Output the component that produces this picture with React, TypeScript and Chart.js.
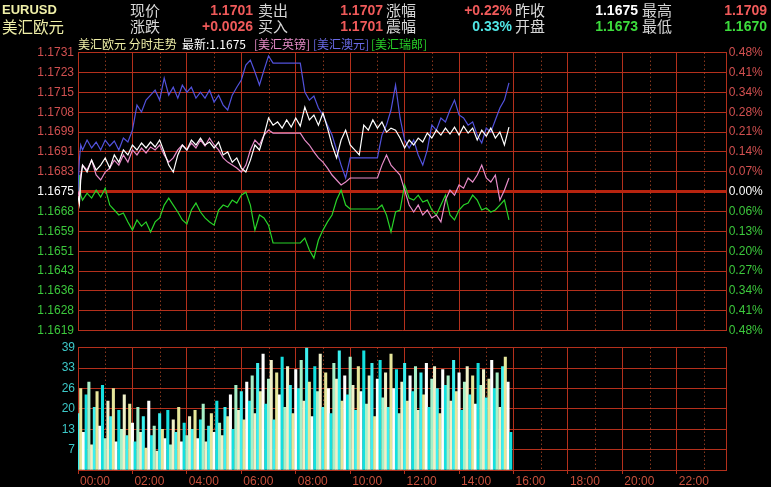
import { useEffect, useRef } from 'react';
import { Chart, registerables } from 'chart.js';

Chart.register(...registerables);

// ---------- data ----------
// minute-of-day slots for the four intraday lines
const lineTimes = [0, 3, 6, ...Array.from({ length: 95 }, (_, i) => (i + 1) * 10)];

// 美汇欧元 (EURUSD)
const eurusd = [
  1.16732, 1.16700, 1.16797,
  1.16857, 1.16829, 1.16877, 1.16837, 1.16857, 1.16886, 1.16845, 1.16898, 1.16869, 1.16918,
  1.16898, 1.16938, 1.16918, 1.16946, 1.16926, 1.16950, 1.16930, 1.16958, 1.16910, 1.16857,
  1.16829, 1.16898, 1.16938, 1.16918, 1.16958, 1.16938, 1.16966, 1.16938, 1.16950, 1.16926,
  1.16950, 1.16898, 1.16910, 1.16869, 1.16886, 1.16845, 1.16829, 1.16877, 1.16938, 1.16918,
  1.16978, 1.17047, 1.17018, 1.17031, 1.17006, 1.17039, 1.17010, 1.17047, 1.17014, 1.17091,
  1.17039, 1.17059, 1.17018, 1.17067, 1.17006, 1.16938, 1.16886, 1.16958, 1.16998, 1.16938,
  1.16918, 1.16898, 1.17018, 1.16998, 1.17039, 1.17006, 1.17031, 1.16990, 1.17006, 1.16998,
  1.16966, 1.16926, 1.16958, 1.16938, 1.16966, 1.16950, 1.16986, 1.16966, 1.16998, 1.16978,
  1.17006, 1.16982, 1.17010, 1.16978, 1.17014, 1.16986, 1.17006, 1.16958, 1.16998, 1.16974,
  1.17006, 1.16966, 1.16990, 1.16938, 1.17010,
];

// [美汇澳元] overlay
const audOverlay = [
  1.16752, 1.16877, 1.16938,
  1.16918, 1.16958, 1.16926, 1.16950, 1.16918, 1.16958, 1.16934, 1.16954, 1.16918, 1.16966,
  1.16950, 1.16998, 1.17099, 1.17071, 1.17119, 1.17139, 1.17159, 1.17119, 1.17208, 1.17139,
  1.17171, 1.17127, 1.17179, 1.17151, 1.17171, 1.17127, 1.17151, 1.17127, 1.17159, 1.17111,
  1.17139, 1.17099, 1.17079, 1.17139, 1.17171, 1.17200, 1.17260, 1.17280, 1.17232, 1.17180,
  1.17240, 1.17297, 1.17268, 1.17268, 1.17268, 1.17268, 1.17268, 1.17268, 1.17268, 1.17151,
  1.17119, 1.17135, 1.17087, 1.17059, 1.17018, 1.16978, 1.16918, 1.16857, 1.16805, 1.16886,
  1.16886, 1.16886, 1.16886, 1.16886, 1.16886, 1.16886, 1.16978, 1.17018, 1.17079, 1.17180,
  1.17047, 1.16958, 1.16926, 1.16958, 1.16898, 1.16857, 1.16918, 1.17018, 1.16998, 1.17047,
  1.17031, 1.17079, 1.17119, 1.17059, 1.17047, 1.17018, 1.17031, 1.16978, 1.16946, 1.17006,
  1.16990, 1.17039, 1.17087, 1.17119, 1.17188,
];

// [美汇英镑] overlay
const gbpOverlay = [
  1.16752, 1.16724, 1.16817,
  1.16857, 1.16837, 1.16877, 1.16817, 1.16797, 1.16829, 1.16845, 1.16877, 1.16857, 1.16898,
  1.16869, 1.16918, 1.16898, 1.16926, 1.16906, 1.16930, 1.16918, 1.16938, 1.16898, 1.16869,
  1.16886, 1.16918, 1.16938, 1.16918, 1.16946, 1.16926, 1.16958, 1.16934, 1.16966, 1.16938,
  1.16918, 1.16886, 1.16869, 1.16857, 1.16845, 1.16829, 1.16857, 1.16918, 1.16958, 1.16938,
  1.16978, 1.16998, 1.16986, 1.16986, 1.16986, 1.16986, 1.16986, 1.16986, 1.16986, 1.16958,
  1.16938, 1.16910, 1.16886, 1.16869, 1.16845, 1.16817, 1.16797, 1.16777, 1.16789, 1.16805,
  1.16805, 1.16805, 1.16805, 1.16805, 1.16805, 1.16805, 1.16857, 1.16898, 1.16857, 1.16837,
  1.16817, 1.16756, 1.16696, 1.16668, 1.16696, 1.16656, 1.16676, 1.16644, 1.16656, 1.16628,
  1.16716, 1.16756, 1.16736, 1.16777, 1.16764, 1.16805, 1.16789, 1.16817, 1.16857, 1.16805,
  1.16789, 1.16817, 1.16716, 1.16756, 1.16805,
];

// [美汇瑞郎] overlay
const chfOverlay = [
  1.16752, 1.16817, 1.16736,
  1.16716, 1.16744, 1.16724, 1.16756, 1.16728, 1.16764, 1.16696, 1.16676, 1.16656, 1.16664,
  1.16628, 1.16595, 1.16636, 1.16611, 1.16628, 1.16587, 1.16628, 1.16644, 1.16696, 1.16724,
  1.16696, 1.16668, 1.16636, 1.16620, 1.16676, 1.16704, 1.16668, 1.16644, 1.16628, 1.16615,
  1.16676, 1.16696, 1.16688, 1.16716, 1.16704, 1.16736, 1.16748, 1.16696, 1.16595, 1.16656,
  1.16644, 1.16615, 1.16543, 1.16543, 1.16543, 1.16543, 1.16543, 1.16543, 1.16543, 1.16563,
  1.16515, 1.16482, 1.16555, 1.16595, 1.16628, 1.16656, 1.16716, 1.16756, 1.16696, 1.16680,
  1.16680, 1.16680, 1.16680, 1.16680, 1.16680, 1.16680, 1.16696, 1.16656, 1.16587, 1.16668,
  1.16676, 1.16777, 1.16724, 1.16716, 1.16736, 1.16708, 1.16716, 1.16676, 1.16656, 1.16696,
  1.16736, 1.16656, 1.16636, 1.16676, 1.16696, 1.16704, 1.16736, 1.16716, 1.16676, 1.16684,
  1.16668, 1.16676, 1.16696, 1.16716, 1.16636,
];

// volume, one bar per 6-minute slot
const volume = [
  18, 26, 12, 24, 28, 8, 20, 25, 14, 27, 10, 22, 17, 26, 9, 19, 13, 24, 11, 21,
  15, 9, 20, 12, 17, 7, 22, 11, 14, 6, 18, 13, 10, 19, 8, 16, 12, 20, 9, 15, 11, 17,
  13, 19, 10, 16, 21, 9, 14, 18, 12, 22, 15, 11, 20, 17, 24, 13, 27, 19, 25, 16, 28, 22,
  30, 18, 34, 25, 37, 21, 29, 35, 16, 31, 24, 36, 20, 33, 27, 18, 32, 26,
  35, 22, 39, 28, 17, 33, 25, 37, 20, 31, 26, 18, 34, 29, 38, 22, 30, 24,
  36, 27, 19, 33, 25, 38, 21, 30, 34, 17, 29, 35, 23, 31, 20, 37, 26, 32, 18, 28, 34, 22, 30, 25, 33, 19,
  31, 24, 34, 20, 29, 33, 26, 18, 32, 27, 30, 22, 35, 25, 31, 19, 28, 33, 24, 30, 21, 34, 27, 32, 23, 29, 35, 26, 31, 20, 33, 36, 28, 12,
];
const volTimes = volume.map((_, i) => i * 6);

// axis labels (top to bottom)
const priceLabels = ['1.1731', '1.1723', '1.1715', '1.1708', '1.1699', '1.1691', '1.1683', '1.1675',
  '1.1668', '1.1659', '1.1651', '1.1643', '1.1636', '1.1628', '1.1619'];
const pctLabels = ['0.48%', '0.41%', '0.34%', '0.28%', '0.21%', '0.14%', '0.07%', '0.00%',
  '0.06%', '0.13%', '0.20%', '0.27%', '0.34%', '0.41%', '0.48%'];
const volLabels = ['', '7', '13', '20', '26', '33', '39']; // bottom to top
const timeLabels = ['00:00', '02:00', '04:00', '06:00', '08:00', '10:00', '12:00', '14:00',
  '16:00', '18:00', '20:00', '22:00'];

const priceMin = 1.1619;
const priceMax = 1.1731;
const volMax = 39;
const dayEnd = 1430;

// header quote fields
const quoteRow1 = [
  { label: '现价', value: '1.1701', color: '#f05a5a' },
  { label: '卖出', value: '1.1707', color: '#f05a5a' },
  { label: '涨幅', value: '+0.22%', color: '#f05a5a' },
  { label: '昨收', value: '1.1675', color: '#ffffff' },
  { label: '最高', value: '1.1709', color: '#f05a5a' },
];
const quoteRow2 = [
  { label: '涨跌', value: '+0.0026', color: '#f05a5a' },
  { label: '买入', value: '1.1701', color: '#f05a5a' },
  { label: '震幅', value: '0.33%', color: '#50e6e6' },
  { label: '开盘', value: '1.1673', color: '#3cdc3c' },
  { label: '最低', value: '1.1670', color: '#3cdc3c' },
];

// ---------- styles ----------
const W = 771;
const H = 487;
const gridColor = '#b4301c';
const dotColor = '#c8502c';
const zeroColor = '#b8240f';
const red = '#d25050';
const green = '#3cc83c';
const numFont = "'Liberation Sans', Arial, sans-serif";
const cjkFont = "'Noto Sans CJK SC', sans-serif";
const labelX = [130, 258, 386, 515, 642];
const valueRight = [253, 383, 512, 638, 767];
const volColors = ['#3cf0f0', '#e6e69a', '#ffffff', '#14e0e0', '#a8f0c8', '#f0f0c8'];

const oddHourLines = {
  id: 'oddHourLines',
  beforeDatasetsDraw(chart: any) {
    const { ctx, chartArea, scales } = chart;
    const xs = scales.x;
    ctx.save();
    ctx.strokeStyle = dotColor;
    ctx.lineWidth = 1;
    ctx.setLineDash([1, 3]);
    for (let h = 1; h < 24; h += 2) {
      const x = Math.round(xs.getPixelForValue(h * 60)) + 0.5;
      ctx.beginPath();
      ctx.moveTo(x, chartArea.top);
      ctx.lineTo(x, chartArea.bottom);
      ctx.stroke();
    }
    ctx.restore();
  },
};

const lineDs = (vals: number[], color: string) => ({
  data: lineTimes.map((t, i) => ({ x: t, y: vals[i] })),
  borderColor: color,
  borderWidth: 1.2,
  pointRadius: 0,
  tension: 0,
  fill: false,
});

const priceTick = (i: number) => priceMin + (i * (priceMax - priceMin)) / 14;

function buildMain(canvas: HTMLCanvasElement) {
  return new Chart(canvas, {
    type: 'line',
    data: {
      datasets: [
        lineDs(eurusd, '#ffffff'),
        lineDs(audOverlay, '#5252dc'),
        lineDs(gbpOverlay, '#e68cc8'),
        lineDs(chfOverlay, '#28d228'),
      ],
    },
    plugins: [oddHourLines],
    options: {
      animation: false,
      responsive: false,
      devicePixelRatio: 1,
      events: [],
      layout: { padding: { top: 52.7, bottom: 156.4, left: 0, right: 0 } },
      plugins: { legend: { display: false }, tooltip: { enabled: false } },
      scales: {
        x: {
          type: 'linear',
          min: 0,
          max: dayEnd,
          afterBuildTicks: (s: any) => {
            s.ticks = timeLabels.map((_, i) => ({ value: i * 120 }));
          },
          ticks: { display: false },
          grid: { color: gridColor, drawTicks: false },
          border: { display: false },
          afterFit: (s: any) => {
            s.height = 0;
          },
        },
        y: {
          type: 'linear',
          position: 'left',
          min: priceMin,
          max: priceMax,
          afterBuildTicks: (s: any) => {
            s.ticks = priceLabels.map((_, i) => ({ value: priceTick(i) }));
          },
          ticks: {
            autoSkip: false,
            padding: 4,
            font: { family: numFont, size: 12 },
            color: (c: any) => (c.index > 7 ? red : c.index === 7 ? '#ffffff' : green),
            callback: (_v: any, i: number) => priceLabels[14 - i],
          },
          grid: {
            drawTicks: false,
            color: (c: any) => (c.index === 7 ? zeroColor : gridColor),
            lineWidth: (c: any) => (c.index === 7 ? 3 : 1),
          },
          border: { color: gridColor },
          afterFit: (s: any) => {
            s.width = 78;
          },
        },
        y2: {
          type: 'linear',
          position: 'right',
          min: priceMin,
          max: priceMax,
          afterBuildTicks: (s: any) => {
            s.ticks = pctLabels.map((_, i) => ({ value: priceTick(i) }));
          },
          ticks: {
            autoSkip: false,
            padding: 2,
            font: { family: numFont, size: 12 },
            color: (c: any) => (c.index > 7 ? red : c.index === 7 ? '#ffffff' : green),
            callback: (_v: any, i: number) => pctLabels[14 - i],
          },
          grid: { display: false, drawTicks: false },
          border: { color: gridColor },
          afterFit: (s: any) => {
            s.width = 44.3;
          },
        },
      },
    },
  } as any);
}

function buildVolume(canvas: HTMLCanvasElement) {
  return new Chart(canvas, {
    type: 'bar',
    data: {
      datasets: [
        {
          data: volTimes.map((t, i) => ({ x: t, y: volume[i] })),
          backgroundColor: (c: any) => volColors[c.dataIndex % volColors.length],
          borderWidth: 0,
          barThickness: 2.4,
        },
      ],
    },
    plugins: [oddHourLines],
    options: {
      animation: false,
      responsive: false,
      devicePixelRatio: 1,
      events: [],
      layout: { padding: { top: 347.7, bottom: 0, left: 0, right: 0 } },
      plugins: { legend: { display: false }, tooltip: { enabled: false } },
      scales: {
        x: {
          type: 'linear',
          min: 0,
          max: dayEnd,
          offset: false,
          afterBuildTicks: (s: any) => {
            s.ticks = timeLabels.map((_, i) => ({ value: i * 120 }));
          },
          ticks: {
            autoSkip: false,
            maxRotation: 0,
            align: 'start',
            labelOffset: 2,
            padding: 0,
            color: '#c8503c',
            font: { family: numFont, size: 12 },
            callback: (_v: any, i: number) => timeLabels[i],
          },
          grid: { color: gridColor, offset: false, drawTicks: true, tickLength: 4, tickColor: gridColor },
          border: { display: false },
          afterFit: (s: any) => {
            s.height = 17;
          },
        },
        y: {
          type: 'linear',
          position: 'left',
          min: 0,
          max: volMax,
          afterBuildTicks: (s: any) => {
            s.ticks = volLabels.map((_, i) => ({ value: (i * volMax) / 6 }));
          },
          ticks: {
            autoSkip: false,
            padding: 3,
            color: '#3cc8c8',
            font: { family: numFont, size: 12 },
            callback: (_v: any, i: number) => volLabels[i],
          },
          grid: { color: gridColor, drawTicks: false },
          border: { color: gridColor },
          afterFit: (s: any) => {
            s.width = 78;
          },
        },
        y2: {
          type: 'linear',
          position: 'right',
          min: 0,
          max: volMax,
          ticks: { display: false },
          grid: { display: false, drawTicks: false },
          border: { color: gridColor },
          afterFit: (s: any) => {
            s.width = 44.3;
          },
        },
      },
    },
  } as any);
}

function Txt(props: {
  x: number;
  y: number;
  text: string;
  color: string;
  size: number;
  font: string;
  bold?: boolean;
  right?: boolean;
}) {
  const { x, y, text, color, size, font, bold, right } = props;
  const style: any = {
    position: 'absolute',
    top: y,
    color,
    fontSize: size,
    fontFamily: font,
    fontWeight: bold ? 'bold' : 'normal',
    lineHeight: '16px',
    whiteSpace: 'nowrap',
  };
  if (right) style.right = W - x;
  else style.left = x;
  return <div style={style}>{text}</div>;
}

export default function App() {
  const mainRef = useRef<HTMLCanvasElement>(null);
  const volRef = useRef<HTMLCanvasElement>(null);

  useEffect(() => {
    const vol = buildVolume(volRef.current!);
    const main = buildMain(mainRef.current!);
    return () => {
      main.destroy();
      vol.destroy();
    };
  }, []);

  const pale = '#f0f0a8';
  const gray = '#d8d8d8';

  return (
    <div
      style={{
        position: 'fixed',
        left: 0,
        top: 0,
        width: W,
        height: H,
        background: '#000',
        overflow: 'hidden',
      }}
    >
      <canvas ref={volRef} width={W} height={H} style={{ position: 'absolute', left: 0, top: 0 }} />
      <canvas ref={mainRef} width={W} height={H} style={{ position: 'absolute', left: 0, top: 0 }} />

      <Txt x={2} y={2} text="EURUSD" color={pale} size={13} font={numFont} bold />
      <Txt x={2} y={18} text="美汇欧元" color={pale} size={15.5} font={cjkFont} />
      {quoteRow1.map((q, i) => (
        <div key={'r1' + i}>
          <Txt x={labelX[i]} y={2} text={q.label} color={gray} size={15} font={cjkFont} />
          <Txt x={valueRight[i]} y={2} text={q.value} color={q.color} size={14} font={numFont} bold right />
        </div>
      ))}
      {quoteRow2.map((q, i) => (
        <div key={'r2' + i}>
          <Txt x={labelX[i]} y={18} text={q.label} color={gray} size={15} font={cjkFont} />
          <Txt x={valueRight[i]} y={18} text={q.value} color={q.color} size={14} font={numFont} bold right />
        </div>
      ))}

      <Txt x={78} y={36} text="美汇欧元 分时走势" color={pale} size={12} font={cjkFont} />
      <Txt x={182} y={36} text="最新:1.1675" color="#ffffff" size={12} font={cjkFont} />
      <Txt x={254} y={36} text="[美汇英镑]" color="#e68cc8" size={12} font={cjkFont} />
      <Txt x={313} y={36} text="[美汇澳元]" color="#6a6ae6" size={12} font={cjkFont} />
      <Txt x={371} y={36} text="[美汇瑞郎]" color="#28d228" size={12} font={cjkFont} />
    </div>
  );
}
